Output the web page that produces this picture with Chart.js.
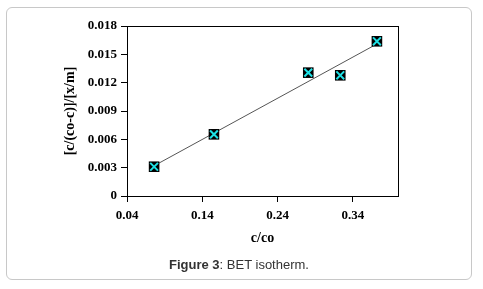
<!DOCTYPE html>
<html>
<head>
<meta charset="utf-8">
<script src="https://cdn.jsdelivr.net/npm/chart.js@4"></script>
<style>
    body { margin: 0; background: #fff; }
    #wrap { position: relative; width: 483px; height: 289px; }
    #card {
        position: absolute; left: 6px; top: 7px; width: 466px; height: 273px;
        border: 1px solid #c8c8c8; border-radius: 6px; box-sizing: border-box;
    }
    #chart { position: absolute; left: 0; top: 0; }
    #caption {
        position: absolute; left: 0; width: 478px; top: 257px; text-align: center;
        font-family: "Liberation Sans", Arial, sans-serif; font-size: 13px; color: #333;
    }
</style>
</head>
<body>
<div id="wrap">
    <div id="card"></div>
    <canvas id="chart" width="483" height="289"></canvas>
    <div id="caption"><b>Figure 3</b>: BET isotherm.</div>
</div>
<script>
// c/co values and the BET term
const ratio = [0.076, 0.1555, 0.2808, 0.3233, 0.372];
const betTerm = [0.0031, 0.00653, 0.01306, 0.01278, 0.01638];

// linear trendline, ends
const trendX = [0.076, 0.372];
const trendY = [0.0032, 0.0161];

const xTicks = [0.04, 0.14, 0.24, 0.34];
const yTicks = [0, 0.003, 0.006, 0.009, 0.012, 0.015, 0.018];

const pts = (xs, ys) => xs.map((x, i) => ({ x: x, y: ys[i] }));
const axisFont = { family: '"Liberation Serif", "Times New Roman", serif', size: 13, weight: 'bold' };

// box round the plot area
const frame = {
    id: 'frame',
    afterDraw(chart) {
        const { ctx, chartArea: a } = chart;
        ctx.save();
        ctx.strokeStyle = '#000';
        ctx.lineWidth = 1;
        ctx.strokeRect(Math.round(a.left) + 0.5, Math.round(a.top) + 0.5,
            Math.round(a.right - a.left), Math.round(a.bottom - a.top));
        ctx.restore();
    }
};

// first dataset ends up on top: cross, then square, then trendline
new Chart(document.getElementById('chart'), {
    type: 'scatter',
    data: {
        datasets: [
            {
                data: pts(ratio, betTerm),
                pointStyle: 'crossRot',
                pointRadius: 5.5,
                borderColor: '#1ee0e4',
                borderWidth: 2
            },
            {
                data: pts(ratio, betTerm),
                pointStyle: 'rect',
                pointRadius: 7.5,
                backgroundColor: '#000',
                borderColor: '#000',
                borderWidth: 0
            },
            {
                data: pts(trendX, trendY),
                showLine: true,
                borderColor: '#555',
                borderWidth: 1,
                pointRadius: 0
            }
        ]
    },
    plugins: [frame],
    options: {
        responsive: false,
        animation: false,
        layout: { padding: { top: 26, right: 85, left: 58, bottom: 40 } },
        plugins: {
            legend: { display: false },
            tooltip: { enabled: false }
        },
        scales: {
            x: {
                type: 'linear',
                min: 0.04,
                max: 0.40,
                afterBuildTicks: s => { s.ticks = xTicks.map(v => ({ value: v })); },
                afterFit: s => { s.height = 53; },
                grid: { drawOnChartArea: false, tickLength: 6, color: '#000' },
                border: { color: '#000' },
                ticks: { color: '#000', font: axisFont, padding: 6, maxRotation: 0,
                    callback: v => String(+v.toFixed(2)) },
                title: { display: true, text: 'c/co', color: '#000',
                    font: { ...axisFont, size: 14 }, padding: { top: 0, bottom: 2 } }
            },
            y: {
                min: 0,
                max: 0.018,
                afterBuildTicks: s => { s.ticks = yTicks.map(v => ({ value: v })); },
                afterFit: s => { s.width = 69; },
                grid: { drawOnChartArea: false, tickLength: 6, color: '#000' },
                border: { color: '#000' },
                ticks: { color: '#000', font: axisFont, padding: 4,
                    callback: v => String(+v.toFixed(3)) },
                title: { display: true, text: '[c/(co-c)]/[x/m]', color: '#000',
                    font: { ...axisFont, size: 14 }, padding: { top: 4, bottom: 0 } }
            }
        }
    }
});
</script>
</body>
</html>
